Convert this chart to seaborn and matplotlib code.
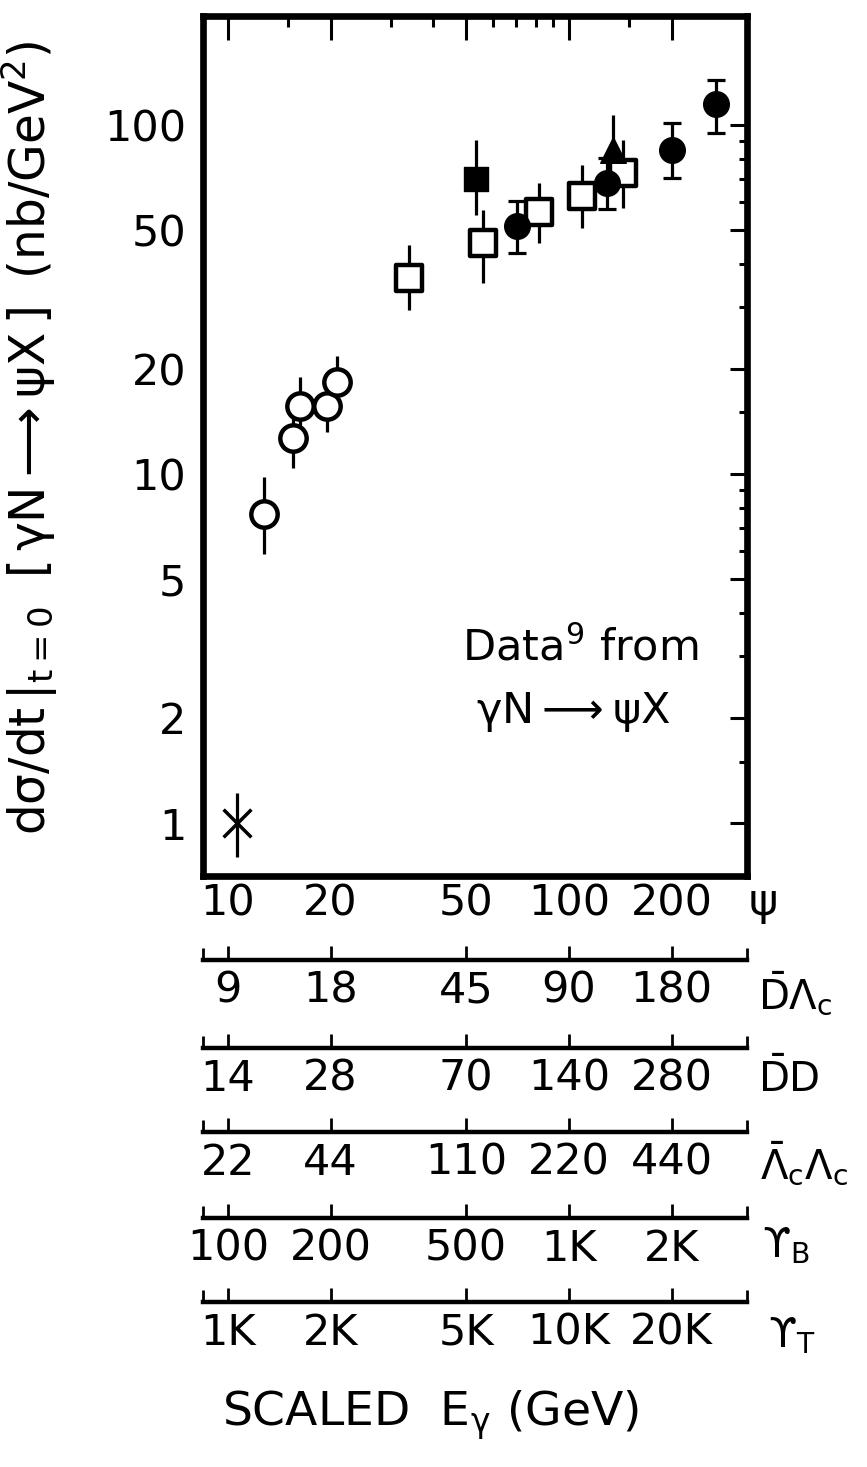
import matplotlib
matplotlib.use("Agg")
import matplotlib.pyplot as plt
import seaborn as sns
import numpy as np
from matplotlib.ticker import FixedLocator, NullFormatter

# ---- data: photoproduction cross section at t=0 versus scaled photon energy ----
# star (single low-energy point)
star_E = [10.6]
star_sig = [1.0]
star_lo = [0.80]
star_hi = [1.22]

# open circles
ocirc_E = [12.8, 15.5, 16.3, 19.5, 20.9]
ocirc_sig = [7.7, 12.7, 15.6, 15.6, 18.3]
ocirc_lo = [5.9, 10.4, 13.5, 13.2, 15.4]
ocirc_hi = [9.8, 14.5, 19.0, 18.0, 21.7]

# open squares
osq_E = [33.9, 56.0, 81.7, 109.0, 144.0]
osq_sig = [36.4, 45.9, 56.3, 62.6, 72.8]
osq_lo = [29.5, 35.3, 45.9, 50.7, 57.8]
osq_hi = [45.3, 57.0, 68.2, 76.8, 90.6]

# filled circles
fcirc_E = [70.4, 129.0, 200.5, 270.0]
fcirc_sig = [51.4, 68.2, 84.8, 115.0]
fcirc_lo = [43.0, 57.5, 70.5, 94.9]
fcirc_hi = [60.6, 80.4, 101.0, 134.5]

# filled square
fsq_E = [53.4]
fsq_sig = [70.0]
fsq_lo = [55.0]
fsq_hi = [90.6]

# filled triangle
ftri_E = [134.6]
ftri_sig = [84.8]
ftri_lo = [72.0]
ftri_hi = [107.0]

# ---- axis scales ----
psi_ticks = [10, 20, 50, 100, 200]
psi_labels = ["10", "20", "50", "100", "200"]
psi_minor = [15, 30, 40, 60, 70, 80, 90, 150]
y_ticks = [1, 2, 5, 10, 20, 50, 100]
y_labels = ["1", "2", "5", "10", "20", "50", "100"]
y_minor = [1.5, 3, 4, 6, 7, 8, 9, 15, 30, 40, 60, 70, 80, 90]

# equivalent energy scales for other final states (factor relative to psi)
scale_factors = [0.9, 1.4, 2.2, 10.0, 100.0]
scale_labels = [
    ["9", "18", "45", "90", "180"],
    ["14", "28", "70", "140", "280"],
    ["22", "44", "110", "220", "440"],
    ["100", "200", "500", "1K", "2K"],
    ["1K", "2K", "5K", "10K", "20K"],
]
scale_names = [r"$\bar{D}\Lambda_c$", r"$\bar{D}D$",
               r"$\bar{\Lambda}_c\Lambda_c$", "\u03d2$_B$", "\u03d2$_T$"]

sns.set_style("white")
plt.rcParams["font.family"] = ["DejaVu Sans"]
plt.rcParams["mathtext.fontset"] = "dejavusans"
plt.rcParams["mathtext.default"] = "regular"
for key in ["text.color", "axes.labelcolor", "xtick.color", "ytick.color",
            "axes.edgecolor"]:
    plt.rcParams[key] = "black"

W, H = 867, 1467
fig = plt.figure(figsize=(W / 100, H / 100), dpi=100)
fig.patch.set_facecolor("white")

def fx(px):
    return px / W

def fy(py):
    return 1 - py / H

left, right, top, bottom = 203, 747, 16, 876
ax = fig.add_axes([fx(left), fy(bottom), fx(right) - fx(left), fy(top) - fy(bottom)])
ax.set_xscale("log")
ax.set_yscale("log")
xlim = (8.45, 333.0)
ax.set_xlim(*xlim)
ax.set_ylim(0.705, 205)

for s in ax.spines.values():
    s.set_linewidth(4.8)
    s.set_color("black")

ax.xaxis.set_major_locator(FixedLocator(psi_ticks))
ax.set_xticklabels(psi_labels)
ax.xaxis.set_minor_locator(FixedLocator(psi_minor))
ax.xaxis.set_minor_formatter(NullFormatter())
ax.yaxis.set_major_locator(FixedLocator(y_ticks))
ax.set_yticklabels(y_labels)
ax.yaxis.set_minor_locator(FixedLocator(y_minor))
ax.yaxis.set_minor_formatter(NullFormatter())

ax.tick_params(which="both", direction="in", top=True, right=True,
               width=2.2, color="black", labelcolor="black", labelsize=31)
ax.tick_params(axis="x", which="major", length=17, pad=5)
ax.tick_params(axis="x", which="minor", length=8)
ax.tick_params(axis="y", which="major", length=12, pad=12)
ax.tick_params(axis="y", which="minor", length=6)

# ---- error bars and markers ----
def bars(E, sig, lo, hi, cap):
    sig = np.asarray(sig)
    err = [sig - np.asarray(lo), np.asarray(hi) - sig]
    ax.errorbar(E, sig, yerr=err, fmt="none", ecolor="black",
                elinewidth=2.3, capsize=cap, capthick=2.3, zorder=2)

bars(star_E, star_sig, star_lo, star_hi, 0)
bars(ocirc_E, ocirc_sig, ocirc_lo, ocirc_hi, 0)
bars(osq_E, osq_sig, osq_lo, osq_hi, 0)
bars(fcirc_E, fcirc_sig, fcirc_lo, fcirc_hi, 6.5)
bars(fsq_E, fsq_sig, fsq_lo, fsq_hi, 0)
bars(ftri_E, ftri_sig, ftri_lo, ftri_hi, 0)

sns.scatterplot(x=star_E, y=star_sig, marker="x", s=400, color="black",
                linewidth=2.5, ax=ax, zorder=3)
sns.scatterplot(x=ocirc_E, y=ocirc_sig, marker="o", s=360, color="white",
                edgecolor="black", linewidth=3.2, ax=ax, zorder=3)
sns.scatterplot(x=osq_E, y=osq_sig, marker="s", s=330, color="white",
                edgecolor="black", linewidth=3.2, ax=ax, zorder=3)
sns.scatterplot(x=fcirc_E, y=fcirc_sig, marker="o", s=340, color="black",
                edgecolor="black", linewidth=1.0, ax=ax, zorder=3)
sns.scatterplot(x=fsq_E, y=fsq_sig, marker="s", s=290, color="black",
                edgecolor="black", linewidth=1.0, ax=ax, zorder=3)
sns.scatterplot(x=ftri_E, y=ftri_sig, marker="^", s=340, color="black",
                edgecolor="black", linewidth=1.0, ax=ax, zorder=3)

ax.set_xlabel("")
ax.text(fx(580), fy(648), r"Data$^{9}$ from", transform=fig.transFigure,
        ha="center", va="center", fontsize=31)
ax.text(fx(573), fy(712), r"$\gamma$N$\longrightarrow\psi$X", transform=fig.transFigure,
        ha="center", va="center", fontsize=31)

# y-axis title
ax.set_ylabel(r"d$\sigma$/dt$\,|_{t=0}\;\;[\,\gamma$N$\longrightarrow\psi$X$\,]\;\;$(nb/GeV$^{2}$)",
              fontsize=35)
ax.yaxis.set_label_coords((60 - left) / (right - left), (bottom - 438) / (bottom - top))

# psi marker label at the end of the main energy axis
fig.text(fx(748), fy(904), r"$\psi$", ha="left", va="center", fontsize=32)

# ---- equivalent energy scales below the plot ----
line_y = [960, 1048, 1132, 1218, 1302]
name_y = [994, 1080, 1164, 1246, 1336]
name_x = [758, 758, 760, 762, 768]
for k, (fac, labs, name) in enumerate(zip(scale_factors, scale_labels, scale_names)):
    loc = -(line_y[k] - bottom) / (bottom - top)
    sec = ax.secondary_xaxis(loc, functions=(lambda x, f=fac: x * f,
                                             lambda x, f=fac: x / f))
    sec.spines["bottom"].set_linewidth(3.2)
    sec.spines["bottom"].set_color("black")
    sec.xaxis.set_major_locator(FixedLocator([t * fac for t in psi_ticks]))
    sec.set_xticklabels(labs)
    sec.xaxis.set_minor_locator(FixedLocator([xlim[0] * fac * 1.003,
                                              xlim[1] * fac / 1.003]))
    sec.xaxis.set_minor_formatter(NullFormatter())
    sec.tick_params(which="both", direction="in", width=2.0, color="black",
                    labelcolor="black", labelsize=31, pad=7)
    sec.tick_params(which="major", length=10)
    sec.tick_params(which="minor", length=9)
    fig.text(fx(name_x[k]), fy(name_y[k]), name, ha="left", va="center",
             fontsize=29)

fig.text(fx(222), fy(1415), r"SCALED  E$_{\gamma}$ (GeV)", ha="left",
         va="center", fontsize=34)

fig.savefig("out.png", dpi=100, facecolor="white")
